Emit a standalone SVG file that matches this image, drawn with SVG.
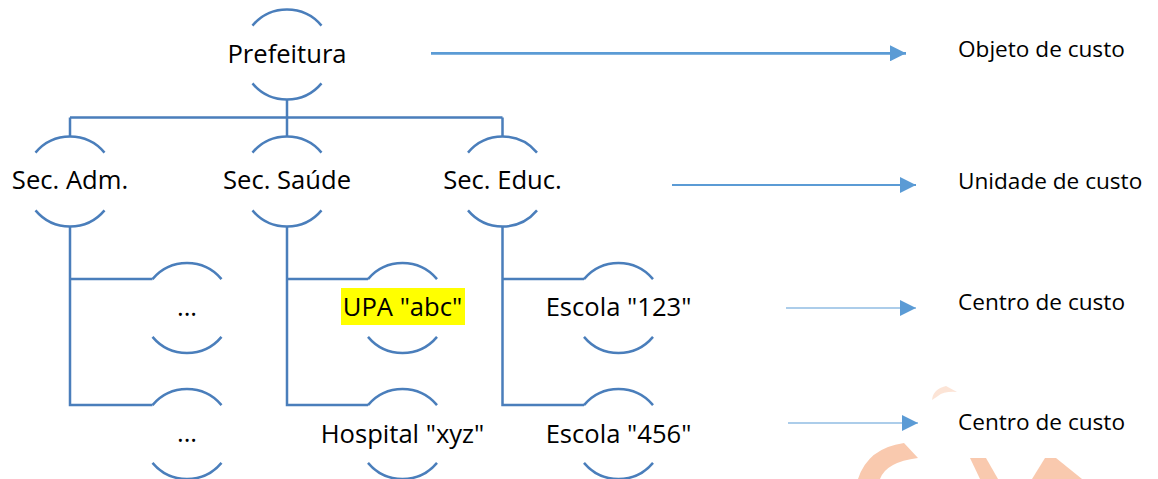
<svg xmlns="http://www.w3.org/2000/svg" width="1158" height="479" viewBox="0 0 1158 479">
<style>
.arc{fill:none;stroke:#4A7EBB;stroke-width:2.5}
.conn{fill:none;stroke:#4A7EBB;stroke-width:2.5}
.lbl{font-family:"Open Sans","Liberation Sans",sans-serif;font-size:25.6px;fill:#000;text-anchor:middle}
.side{font-family:"Open Sans","Liberation Sans",sans-serif;font-size:22.6px;fill:#000}
.arr{fill:none;stroke:#5B9BD5}
.wm{fill:#F9C9AE}
</style>
<defs>
<marker id="ah" markerUnits="userSpaceOnUse" markerWidth="16" markerHeight="16" refX="16" refY="8" orient="auto">
<path d="M0,0 L16,8 L0,16 Z" fill="#5B9BD5"/>
</marker>
</defs>
<rect width="1158" height="479" fill="#fff"/>
<g id="watermark">
<path class="wm" d="M932,400 Q933,389 946,386 L957,392 Q944,391 938,396 Z" opacity="0.5"/>
<path class="wm" d="M858,479 Q868,448 904,443 L918,458 Q886,462 880,479 Z"/>
<path class="wm" d="M970,458 L986,458 L998,479 L980,479 Z"/>
<path class="wm" d="M1032,479 L1045,458 L1056,458 L1082,479 Z"/>
</g>
<g id="connectors">
<path class="conn" d="M287,99.5 V117.5 M70,117.5 H502.5 M70,117.5 V136.5 M287,117.5 V136.5 M502.5,117.5 V136.5"/>
<path class="conn" d="M70,226.5 V405.1 H152.5 M70,279.1 H152.5"/>
<path class="conn" d="M287,226.5 V405.1 H368 M287,279.1 H368"/>
<path class="conn" d="M502.5,226.5 V405.1 H584 M502.5,279.1 H584"/>
<line class="arr" x1="431" y1="53.3" x2="906" y2="53.3" stroke-width="2.7" marker-end="url(#ah)"/>
<line class="arr" x1="672" y1="185" x2="916" y2="185" stroke-width="2" marker-end="url(#ah)"/>
<line class="arr" x1="786" y1="308" x2="916" y2="308" stroke-width="1.2" marker-end="url(#ah)"/>
<line class="arr" x1="788" y1="423" x2="918" y2="423" stroke-width="1.2" marker-end="url(#ah)"/>
</g>
<g id="n-prefeitura">
<path class="arc" d="M252.5,25.6 A45,45 0 0 1 321.5,25.6 M252.5,83.4 A45,45 0 0 0 321.5,83.4"/>
<text class="lbl" x="287" y="63">Prefeitura</text>
</g>
<g id="n-adm">
<path class="arc" d="M35.5,152.6 A45,45 0 0 1 104.5,152.6 M35.5,210.4 A45,45 0 0 0 104.5,210.4"/>
<text class="lbl" x="70" y="189">Sec. Adm.</text>
</g>
<g id="n-saude">
<path class="arc" d="M252.5,152.6 A45,45 0 0 1 321.5,152.6 M252.5,210.4 A45,45 0 0 0 321.5,210.4"/>
<text class="lbl" x="287" y="189">Sec. Saúde</text>
</g>
<g id="n-educ">
<path class="arc" d="M468,152.6 A45,45 0 0 1 537,152.6 M468,210.4 A45,45 0 0 0 537,210.4"/>
<text class="lbl" x="502.5" y="189">Sec. Educ.</text>
</g>
<g id="n-adm1">
<path class="arc" d="M152.5,279.1 A45,45 0 0 1 221.5,279.1 M152.5,336.9 A45,45 0 0 0 221.5,336.9"/>
<text class="lbl" x="187" y="316">...</text>
</g>
<g id="n-adm2">
<path class="arc" d="M152.5,405.1 A45,45 0 0 1 221.5,405.1 M152.5,462.9 A45,45 0 0 0 221.5,462.9"/>
<text class="lbl" x="187" y="442">...</text>
</g>
<g id="n-upa">
<path class="arc" d="M368,279.1 A45,45 0 0 1 437,279.1 M368,336.9 A45,45 0 0 0 437,336.9"/>
<rect x="341" y="288" width="124" height="37" fill="#FFFF00"/>
<text class="lbl" x="402.5" y="316">UPA "abc"</text>
</g>
<g id="n-hospital">
<path class="arc" d="M368,405.1 A45,45 0 0 1 437,405.1 M368,462.9 A45,45 0 0 0 437,462.9"/>
<text class="lbl" x="402.5" y="443">Hospital "xyz"</text>
</g>
<g id="n-escola123">
<path class="arc" d="M584,279.1 A45,45 0 0 1 653,279.1 M584,336.9 A45,45 0 0 0 653,336.9"/>
<text class="lbl" x="618.5" y="316">Escola "123"</text>
</g>
<g id="n-escola456">
<path class="arc" d="M584,405.1 A45,45 0 0 1 653,405.1 M584,462.9 A45,45 0 0 0 653,462.9"/>
<text class="lbl" x="618.5" y="443">Escola "456"</text>
</g>
<g id="labels">
<text class="side" x="958" y="57">Objeto de custo</text>
<text class="side" x="958" y="189">Unidade de custo</text>
<text class="side" x="958" y="310">Centro de custo</text>
<text class="side" x="958" y="430">Centro de custo</text>
</g>
</svg>
